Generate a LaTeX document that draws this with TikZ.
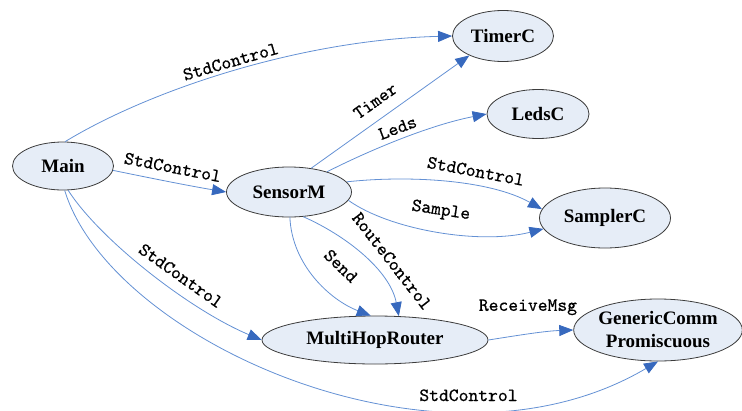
\documentclass[tikz,border=0pt]{standalone}
\usepackage{fontspec}
\setmainfont{Liberation Serif}
\newfontfamily\monof{lmmono10-regular.otf}[FakeBold=0.6]
\usetikzlibrary{shapes.geometric,arrows.meta}
\definecolor{edgec}{RGB}{100,145,212}
\definecolor{tipc}{RGB}{55,105,190}
\definecolor{nodefill}{RGB}{230,237,247}
\definecolor{nodeline}{RGB}{60,60,60}
\tikzset{
  comp/.style={ellipse, draw=nodeline, fill=nodefill, line width=0.8pt, inner sep=0pt,
    font=\fontsize{19}{23}\selectfont\bfseries, align=center},
  conn/.style={draw=edgec, line width=0.8pt, -{Triangle[length=14pt,width=11pt,color=tipc]}},
  lbl/.style={font=\fontsize{18.7}{20}\selectfont\monof, inner sep=1.5pt},
}
\begin{document}
\begin{tikzpicture}[x=1pt,y=-1pt]
\useasboundingbox (0,0) rectangle (742,410);
\node[comp, minimum width=101pt, minimum height=48pt] (Main) at (63,166) {Main};
\node[comp, minimum width=125pt, minimum height=50pt] (SensorM) at (289,192) {SensorM};
\node[comp, minimum width=101pt, minimum height=51pt] (TimerC) at (503,36) {TimerC};
\node[comp, minimum width=102pt, minimum height=49pt] (LedsC) at (538,114) {LedsC};
\node[comp, minimum width=131pt, minimum height=60pt] (SamplerC) at (605,218) {SamplerC};
\node[comp, minimum width=226pt, minimum height=48pt] (MHR) at (375,340) {MultiHopRouter};
\node[comp, minimum width=168pt, minimum height=62pt] (GC) at (658,330) {GenericComm\\Promiscuous};

% Main -> TimerC
\draw[conn] (Main.85) .. controls (150,90) and (300,40) .. (TimerC.west)
  node[lbl, sloped, above=2pt, pos=0.5] {StdControl};
% Main -> SensorM
\draw[conn] (Main.-5) .. controls (150,178) and (190,186) .. (SensorM.west)
  node[lbl, sloped, above=7pt, pos=0.5] {StdControl};
% SensorM -> TimerC
\draw[conn] (SensorM.47) -- (TimerC.210)
  node[lbl, sloped, above=10pt, pos=0.47] {Timer};
% SensorM -> LedsC
\draw[conn] (SensorM.28) .. controls (370,150) and (430,125) .. (LedsC.west)
  node[lbl, sloped, above=4pt, pos=0.5] {Leds};
% SensorM -> SamplerC
\draw[conn] (SensorM.10) .. controls (410,175) and (490,180) .. (SamplerC.172)
  node[lbl, sloped, above=7pt, pos=0.62] {StdControl};
\draw[conn] (SensorM.-8) .. controls (390,230) and (480,245) .. (SamplerC.190)
  node[lbl, sloped, above=11pt, pos=0.5] {Sample};
% SensorM -> MultiHopRouter
\draw[conn] (SensorM.-88) .. controls (292,265) and (330,300) .. (MHR.100)
  node[lbl, sloped, above=19pt, pos=0.57] {Send};
\draw[conn] (SensorM.-60) .. controls (345,235) and (390,270) .. (MHR.45)
  node[lbl, sloped, above=10pt, pos=0.65] {RouteControl};
% Main -> MultiHopRouter
\draw[conn] (Main.-78) .. controls (100,240) and (190,310) .. (MHR.west)
  node[lbl, sloped, above=8pt, pos=0.6] {StdControl};
% Main -> GenericComm
\draw[conn] (Main.-86) .. controls (110,340) and (440,490) .. (GC.-90)
  node[lbl, above=7pt, pos=0.735] {StdControl};
% MultiHopRouter -> GenericComm
\draw[conn] (MHR.east) .. controls (520,335) and (545,331) .. (GC.west)
  node[lbl, above=17pt, pos=0.45] {ReceiveMsg};
\end{tikzpicture}
\end{document}
